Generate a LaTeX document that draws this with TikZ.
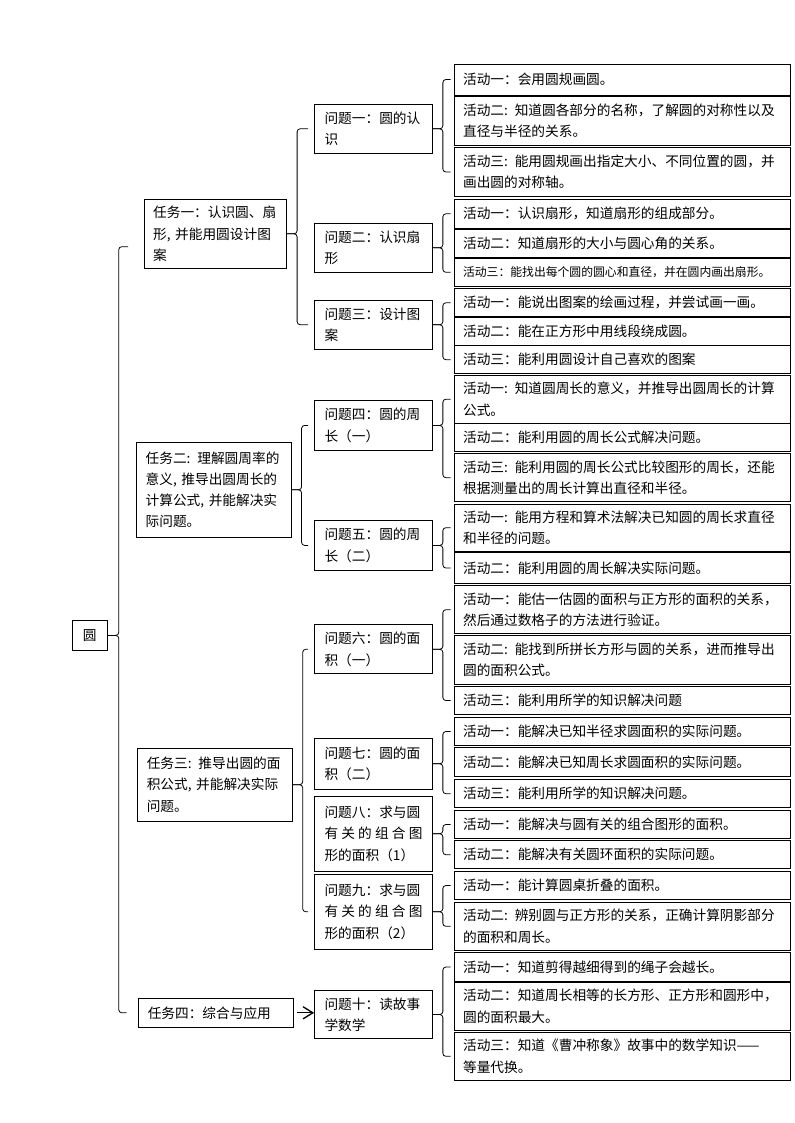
\documentclass[tikz,border=0pt]{standalone}
\usepackage{fontspec}
\setmainfont{Noto Sans CJK SC}
\usetikzlibrary{arrows.meta,calc}

\begin{document}
\begin{tikzpicture}[
    x=0.26458mm, y=-0.26458mm,
    font=\fontsize{10.3pt}{16pt}\selectfont,
    >={Straight Barb[length=2.6mm,width=3.2mm]},
    box/.style={rectangle, draw=black, line width=0.6pt, inner ysep=0pt, align=left},
    root/.style={box, align=center, inner sep=0pt, minimum width=9.3mm, minimum height=7.8mm},
    task/.style={box, text width=36mm, inner xsep=2.5mm},
    prob/.style={box, text width=25.9mm, inner xsep=2.65mm, minimum height=13mm},
    act/.style={box, text width=84.1mm, inner xsep=2.4mm, minimum height=7.5mm},
    tall/.style={minimum height=12.8mm},
    brc/.style={line width=0.6pt, rounded corners=0.8mm},
    flow/.style={->, line width=1pt, shorten <=1mm}
  ]
  \path[fill=white, use as bounding box] (0,0) rectangle (794,1123);

  \node[root] (r) at (89.8,635.4) {圆};

  % tasks
  \node[task, text width=33mm, inner xsep=2.34mm, minimum height=18.3mm] (t1) at (215.5,233.8)
    {任务一：认识圆、扇\\形, 并能用圆设计图\\案};
  \node[task, minimum height=25.1mm] (t2) at (213.7,489.8)
    {任务二: 理解圆周率的\\意义, 推导出圆周长的\\计算公式, 并能解决实\\际问题。};
  \node[task, minimum height=19.2mm] (t3) at (214.8,784.7)
    {任务三: 推导出圆的面\\积公式, 并能解决实际\\问题。};
  \node[task, minimum height=7.7mm] (t4) at (215.8,1012.8) {任务四：综合与应用};

  % problems
  \node[prob] (p1) at (373.5,128.8) {问题一：圆的认\\识};
  \node[prob] (p2) at (373.5,247.8) {问题二：认识扇\\形};
  \node[prob] (p3) at (373.5,324.7) {问题三：设计图\\案};
  \node[prob] (p4) at (373.5,425.4) {问题四：圆的周\\长（一）};
  \node[prob] (p5) at (373.5,545.4) {问题五：圆的周\\长（二）};
  \node[prob] (p6) at (373.5,649.3) {问题六：圆的面\\积（一）};
  \node[prob, minimum height=13.5mm] (p7) at (373.5,763.8) {问题七：圆的面\\积（二）};
  \node[prob, minimum height=19.8mm] (p8) at (373.5,833.7)
    {问题八：求与圆\\有\hfill 关\hfill 的\hfill 组\hfill 合\hfill 图\\形的面积（1）};
  \node[prob, minimum height=19.9mm] (p9) at (373.5,911.7)
    {问题九：求与圆\\有\hfill 关\hfill 的\hfill 组\hfill 合\hfill 图\\形的面积（2）};
  \node[prob, minimum height=12.6mm] (p10) at (373.5,1014.5) {问题十：读故事\\学数学};

  % activities
  \node[act, minimum height=8.2mm] (a11) at (622,79.5) {活动一：会用圆规画圆。};
  \node[act, tall] (a12) at (622,121) {活动二: 知道圆各部分的名称，了解圆的对称性以及\\直径与半径的关系。};
  \node[act, tall] (a13) at (622,172) {活动三: 能用圆规画出指定大小、不同位置的圆，并\\画出圆的对称轴。};
  \node[act] (a21) at (622,213.8) {活动一：认识扇形，知道扇形的组成部分。};
  \node[act] (a22) at (622,243.3) {活动二：知道扇形的大小与圆心角的关系。};
  \node[act, font=\fontsize{8.9pt}{12pt}\selectfont] (a23) at (622,272.3) {活动三：能找出每个圆的圆心和直径，并在圆内画出扇形。};
  \node[act] (a31) at (622,302.8) {活动一：能说出图案的绘画过程，并尝试画一画。};
  \node[act] (a32) at (622,331) {活动二：能在正方形中用线段绕成圆。};
  \node[act] (a33) at (622,359.7) {活动三：能利用圆设计自己喜欢的图案};
  \node[act, tall] (a41) at (622,399.2) {活动一: 知道圆周长的意义，并推导出圆周长的计算\\公式。};
  \node[act] (a42) at (622,437.7) {活动二：能利用圆的周长公式解决问题。};
  \node[act, tall] (a43) at (622,477.7) {活动三: 能利用圆的周长公式比较图形的周长，还能\\根据测量出的周长计算出直径和半径。};
  \node[act, minimum height=12.4mm] (a51) at (622,527.7) {活动一: 能用方程和算术法解决已知圆的周长求直径\\和半径的问题。};
  \node[act, minimum height=8.1mm] (a52) at (622,568) {活动二：能利用圆的周长解决实际问题。};
  \node[act, tall] (a61) at (622,609.7) {活动一：能估一估圆的面积与正方形的面积的关系，\\然后通过数格子的方法进行验证。};
  \node[act, tall] (a62) at (622,660) {活动二: 能找到所拼长方形与圆的关系，进而推导出\\圆的面积公式。};
  \node[act] (a63) at (622,700.5) {活动三：能利用所学的知识解决问题};
  \node[act] (a71) at (622,731.5) {活动一：能解决已知半径求圆面积的实际问题。};
  \node[act] (a72) at (622,762) {活动二：能解决已知周长求圆面积的实际问题。};
  \node[act] (a73) at (622,793.7) {活动三：能利用所学的知识解决问题。};
  \node[act] (a81) at (622,824.5) {活动一：能解决与圆有关的组合图形的面积。};
  \node[act] (a82) at (622,854.7) {活动二：能解决有关圆环面积的实际问题。};
  \node[act] (a91) at (622,885.5) {活动一：能计算圆桌折叠的面积。};
  \node[act, tall] (a92) at (622,926.3) {活动二: 辨别圆与正方形的关系，正确计算阴影部分\\的面积和周长。};
  \node[act] (a101) at (622,967) {活动一：知道剪得越细得到的绳子会越长。};
  \node[act, tall] (a102) at (622,1006.2) {活动二：知道周长相等的长方形、正方形和圆形中，\\圆的面积最大。};
  \node[act, tall] (a103) at (622,1056.3) {活动三：知道《曹冲称象》故事中的数学知识——\\等量代换。};

  % braces
  \draw[brc] (r.east) -- ++(11,0) |- ([xshift=-4.2mm,yshift=-3.4mm]t1.west);
  \draw[brc] (r.east) -- ++(11,0) |- ([xshift=-3mm]t4.west);
  \foreach \pa/\fst/\lst in {t1/p1/p3, t2/p4/p5, t3/p6/p9}{
    \draw[brc] (\pa.east) -- ++(10,0) |- ([xshift=-1.6mm]\fst.west);
    \draw[brc] (\pa.east) -- ++(10,0) |- ([xshift=-1.6mm]\lst.west);
  }
  \foreach \pa/\fst/\lst in {p1/a11/a13, p2/a21/a23, p3/a31/a33, p4/a41/a43, p5/a51/a52,
      p6/a61/a63, p7/a71/a73, p8/a81/a82, p9/a91/a92, p10/a101/a103}{
    \draw[brc] (\pa.east) -- ++(10,0) |- ([xshift=-0.8mm]\fst.west);
    \draw[brc] (\pa.east) -- ++(10,0) |- ([xshift=-0.8mm]\lst.west);
  }
  \draw[flow] (t4.east) -- (t4.east -| p10.west);
\end{tikzpicture}
\end{document}
